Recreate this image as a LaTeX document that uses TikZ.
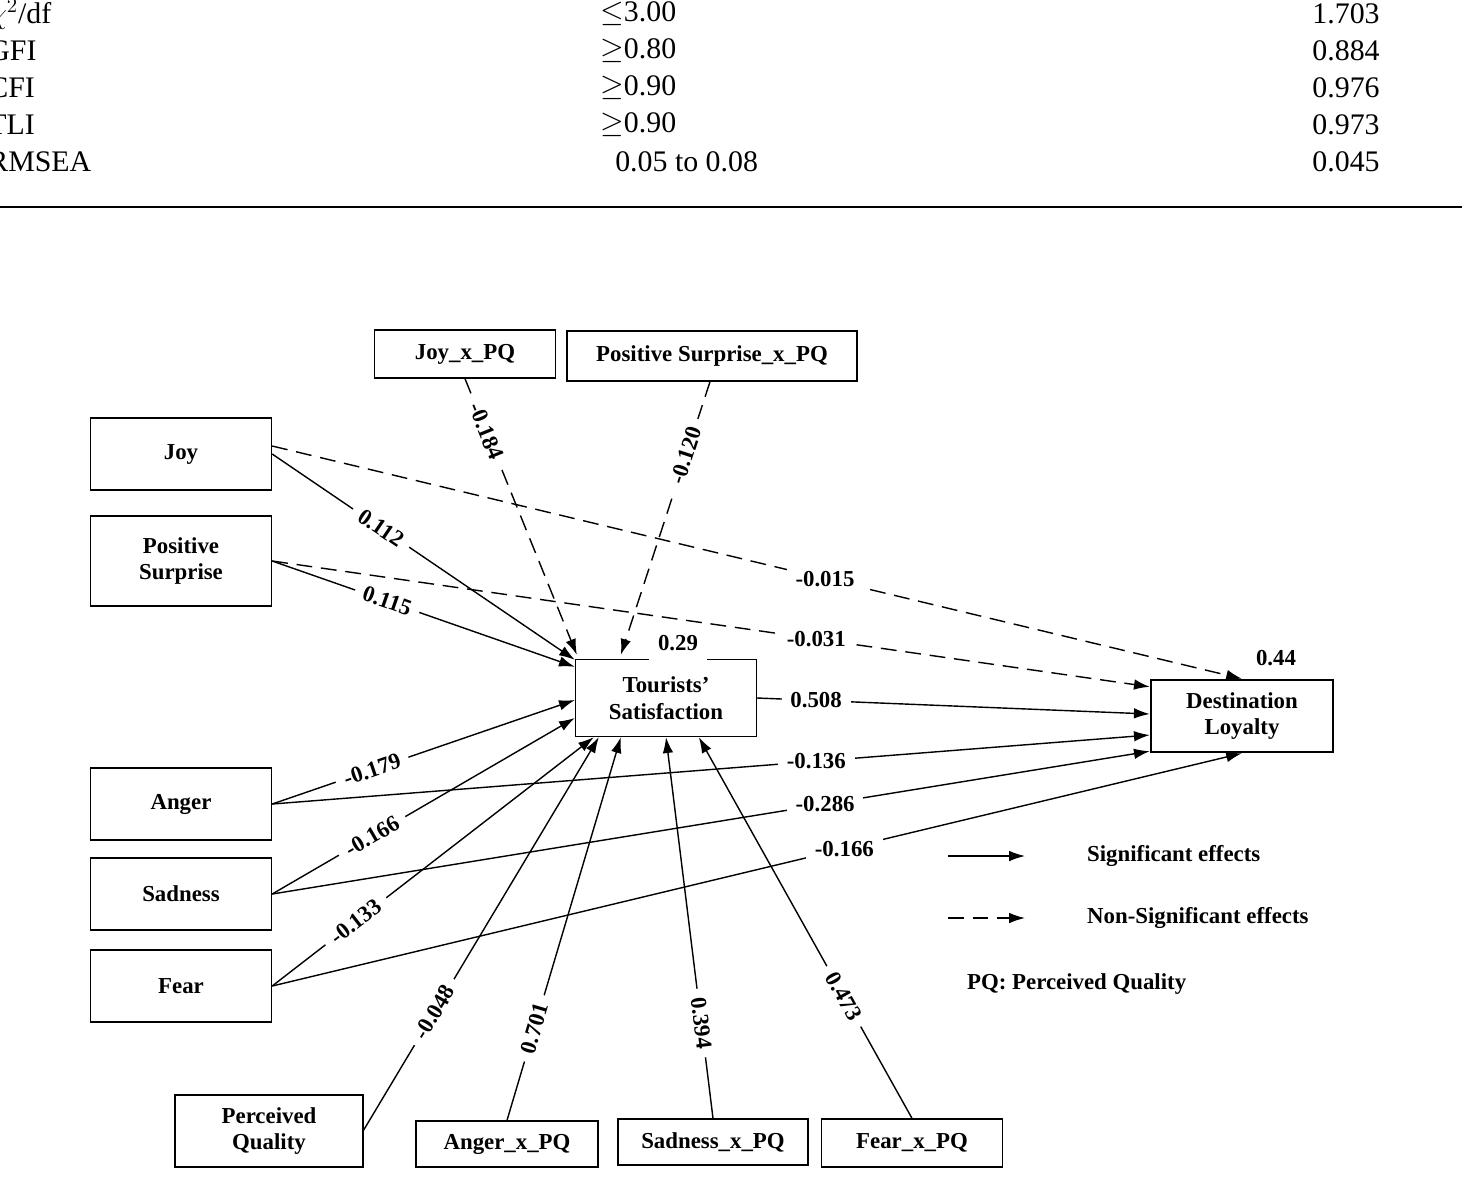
\documentclass[tikz,border=0pt]{standalone}
\usepackage{fontspec}
\setmainfont{Liberation Serif}
\usetikzlibrary{arrows.meta}
\usetikzlibrary{positioning}
\usetikzlibrary{calc}

\begin{document}
\begin{tikzpicture}[x=0.02cm, y=-0.02cm,
    box/.style={draw, thick, align=center, inner sep=0pt, font=\fontsize{13}{15}\selectfont\bfseries},
    tab/.style={inner sep=0pt, font=\fontsize{17}{19}\selectfont},
    eff/.style={thick, -{Latex[length=9pt, width=6pt]}},
    ns/.style={eff, dash pattern=on 9pt off 5pt},
    coef/.style={fill=white, inner sep=5pt, font=\fontsize{13}{15}\selectfont\bfseries}]
  \useasboundingbox (0,0) rectangle (1462,1181);
  \clip (0,0) rectangle (1462,1181);
  % fit table (cut off at the top)
  \foreach \name/\crit/\val [count=\i] in {{$\chi^2$/df}/$\leq$3.00/1.703, GFI/$\geq$0.80/0.884, CFI/$\geq$0.90/0.976, TLI/$\geq$0.90/0.973, RMSEA/\enspace 0.05 to 0.08/0.045}
  {
    \node[tab, anchor=west] (idx\i) at (-12,{14+37*(\i-1)}) {\name};
    \node[tab, anchor=west] (crit\i) at (600,{14+37*(\i-1)}) {\crit};
    \node[tab, anchor=east] (val\i) at (1380,{14+37*(\i-1)}) {\val};
  }
  \draw[line width=1.6pt] (0,207) -- (1462,207);

  % constructs
  \node[box, minimum width=3.62cm, minimum height=1.44cm] (joy) at (181,454) {Joy};
  \node[box, minimum width=3.62cm, minimum height=1.8cm] (ps) at (181,561) {Positive\\Surprise};
  \node[box, minimum width=3.62cm, minimum height=1.44cm] (anger) at (181,804) {Anger};
  \node[box, minimum width=3.62cm, minimum height=1.44cm] (sad) at (181,894) {Sadness};
  \node[box, minimum width=3.62cm, minimum height=1.44cm] (fear) at (181,986) {Fear};
  \node[box, minimum width=3.62cm, minimum height=0.96cm] (joypq) at (465,354) {Joy\_x\_PQ};
  \node[box, minimum width=5.8cm, minimum height=1.0cm] (pspq) at (712,356) {Positive Surprise\_x\_PQ};
  \node[box, minimum width=3.62cm, minimum height=1.54cm] (ts) at (666,698) {Tourists'\\Satisfaction};
  \node[box, line width=1.4pt, minimum width=3.64cm, minimum height=1.44cm] (dl) at (1242,716) {Destination\\Loyalty};
  \node[box, minimum width=3.76cm, minimum height=1.44cm] (pq) at (269,1131) {Perceived\\Quality};
  \node[box, minimum width=3.64cm, minimum height=0.92cm] (angerpq) at (507,1144) {Anger\_x\_PQ};
  \node[box, minimum width=3.8cm, minimum height=0.92cm] (sadpq) at (713,1142) {Sadness\_x\_PQ};
  \node[box, minimum width=3.62cm, minimum height=0.96cm] (fearpq) at (912,1143) {Fear\_x\_PQ};

  % R squared
  \node[coef] (rts) at (678,643) {0.29};
  \node[coef] (rdl) at (1276,658) {0.44};

  % paths to satisfaction
  \draw[eff] (joy.east) -- node[coef, sloped, pos=0.36] {0.112} ($(ts.north west)+(0,1)$);
  \draw[eff] (ps.east) -- node[coef, sloped, pos=0.38] {0.115} ($(ts.north west)+(0,8)$);
  \draw[eff] (anger.east) -- node[coef, sloped, pos=0.33] {-0.179} ($(ts.west)+(0,2)$);
  \draw[eff] (sad.east) -- node[coef, sloped, pos=0.33] {-0.166} ($(ts.west)+(0,20)$);
  \draw[eff] (fear.east) -- node[coef, sloped, pos=0.26] {-0.133} ($(ts.south west)+(19,0)$);
  \draw[eff] ($(pq.east)+(0,-1)$) -- node[coef, sloped, pos=0.30] {-0.048} ($(ts.south west)+(24,0)$);
  \draw[eff] (angerpq.north) -- node[coef, sloped, pos=0.24] {0.701} ($(ts.south west)+(46,0)$);
  \draw[eff] (sadpq.north) -- node[coef, sloped, pos=0.25] {0.394} (ts.south);
  \draw[eff] (fearpq.north) -- node[coef, sloped, pos=0.32] {0.473} ($(ts.south west)+(124,0)$);
  \draw[ns] (joypq.south) -- node[coef, sloped, pos=0.19] {-0.184} ($(ts.north west)+(2,-4)$);
  \draw[ns] ($(pspq.south)+(-2,0)$) -- node[coef, sloped, pos=0.27] {-0.120} ($(ts.north west)+(46,-4)$);

  % paths to loyalty
  \draw[ns] ($(joy.east)+(0,-8)$) -- node[coef, pos=0.57] {-0.015} (dl.north);
  \draw[ns] (ps.east) -- node[coef, pos=0.62] {-0.031} ($(dl.north west)+(0,8)$);
  \draw[eff] (ts.east) -- node[coef, pos=0.15] {0.508} ($(dl.west)+(0,-2)$);
  \draw[eff] (anger.east) -- node[coef, pos=0.62] {-0.136} ($(dl.west)+(0,19)$);
  \draw[eff] (sad.east) -- node[coef, pos=0.63] {-0.286} ($(dl.south west)+(0,-2)$);
  \draw[eff] (fear.east) -- node[coef, pos=0.59] {-0.166} (dl.south);

  % legend
  \coordinate (sigA) at (948,856);
  \coordinate (sigB) at (1025,856);
  \coordinate (nsA) at (948,918);
  \coordinate (nsB) at (1025,918);
  \draw[eff] (sigA) -- (sigB);
  \draw[ns] (nsA) -- (nsB);
  \node[coef, anchor=west] (sigtxt) at (1078,856) {Significant effects};
  \node[coef, anchor=west] (nstxt) at (1078,918) {Non-Significant effects};
  \node[coef, anchor=west] (pqtxt) at (958,984) {PQ: Perceived Quality};
\end{tikzpicture}
\end{document}
